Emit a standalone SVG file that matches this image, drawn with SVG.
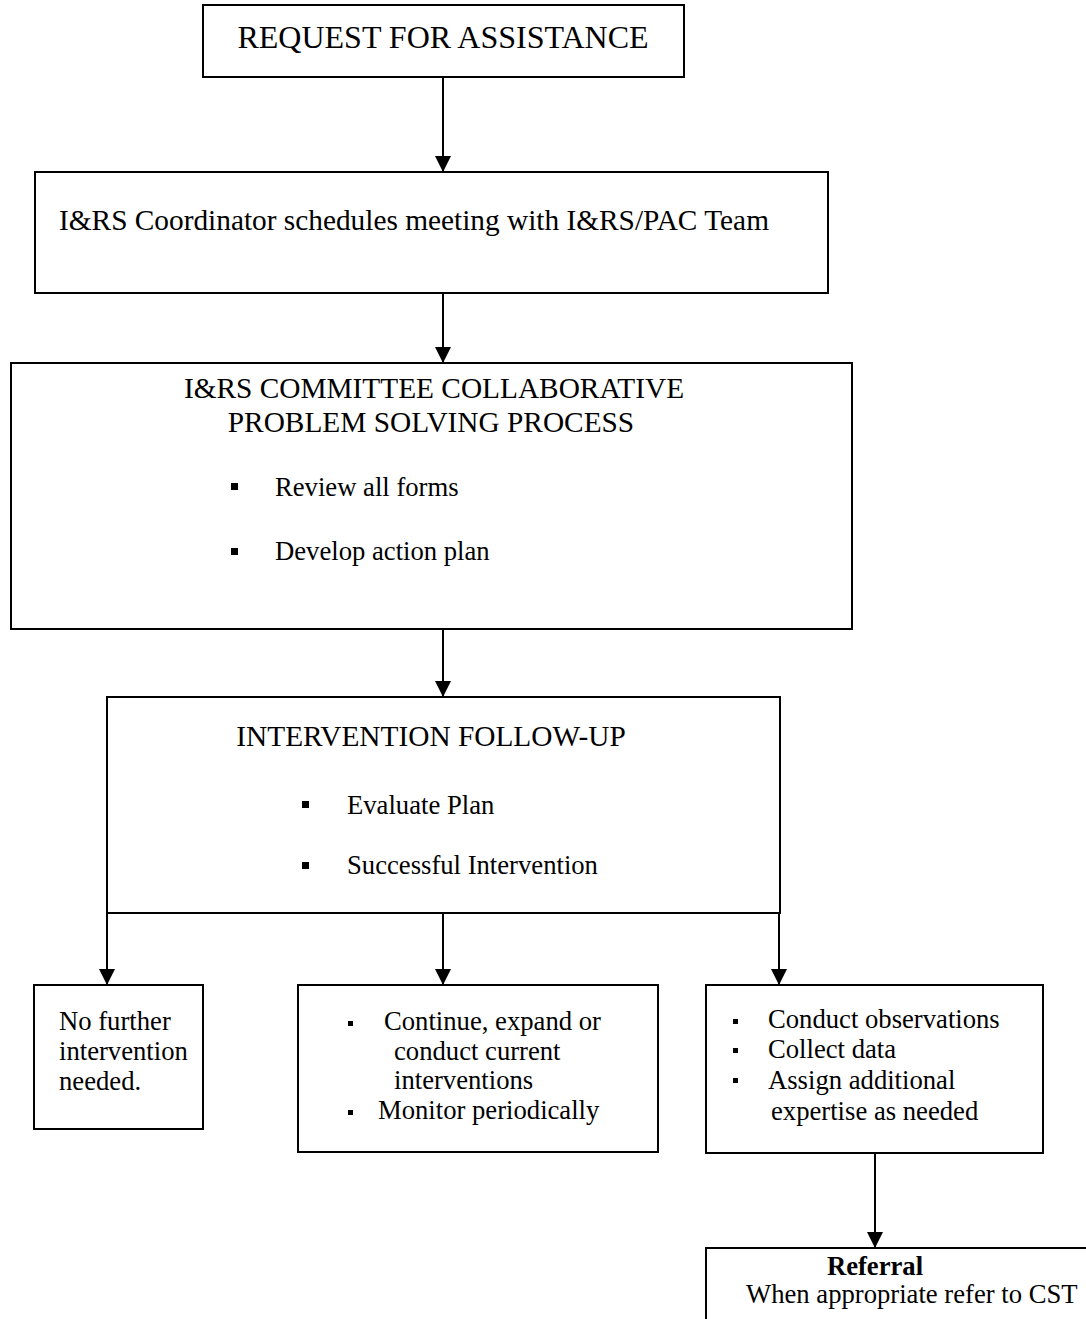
<svg xmlns="http://www.w3.org/2000/svg" width="1086" height="1319" viewBox="0 0 1086 1319">
<style>
.box{fill:#fff;stroke:#000;stroke-width:2}
.t{font-family:"Liberation Serif","Times New Roman",serif;fill:#000}
.l{font-size:32px}
.m{font-size:29.33px}
.s{font-size:26.67px}
.c{text-anchor:middle}
.b{font-weight:bold}
.conn{stroke:#000;stroke-width:2;fill:none}
.arr{marker-end:url(#ah)}
.blt{fill:#000}
</style>
<defs>
<marker id="ah" viewBox="0 0 16 16" refX="16" refY="8" markerWidth="16" markerHeight="16" markerUnits="userSpaceOnUse" orient="auto">
<path d="M0,0 L16,8 L0,16 Z" fill="#000"/>
</marker>
</defs>
<rect x="0" y="0" width="1086" height="1319" fill="#fff"/>
<g id="connectors">
<line class="conn arr" x1="443" y1="77" x2="443" y2="172"/>
<line class="conn arr" x1="443" y1="293" x2="443" y2="363"/>
<line class="conn arr" x1="443" y1="629" x2="443" y2="697"/>
<line class="conn arr" x1="107" y1="913" x2="107" y2="985"/>
<line class="conn arr" x1="443" y1="913" x2="443" y2="985"/>
<line class="conn arr" x1="779" y1="913" x2="779" y2="985"/>
<line class="conn arr" x1="875" y1="1153" x2="875" y2="1248"/>
</g>
<g id="request">
<rect class="box" x="203" y="5" width="481" height="72"/>
<text class="t l c" x="443" y="48">REQUEST FOR ASSISTANCE</text>
</g>
<g id="coordinator">
<rect class="box" x="35" y="172" width="793" height="121"/>
<text class="t m" x="59" y="230">I&amp;RS Coordinator schedules meeting with I&amp;RS/PAC Team</text>
</g>
<g id="committee">
<rect class="box" x="11" y="363" width="841" height="266"/>
<text class="t m c" x="434" y="398">I&amp;RS COMMITTEE COLLABORATIVE</text>
<text class="t m c" x="431" y="432">PROBLEM SOLVING PROCESS</text>
<rect class="blt" x="231" y="483" width="7" height="7"/>
<text class="t s" x="275" y="496">Review all forms</text>
<rect class="blt" x="231" y="548" width="7" height="7"/>
<text class="t s" x="275" y="560">Develop action plan</text>
</g>
<g id="followup">
<rect class="box" x="107" y="697" width="673" height="216"/>
<text class="t m c" x="431" y="746">INTERVENTION FOLLOW-UP</text>
<rect class="blt" x="302" y="801" width="7" height="7"/>
<text class="t s" x="347" y="814">Evaluate Plan</text>
<rect class="blt" x="302" y="862" width="7" height="7"/>
<text class="t s" x="347" y="874">Successful Intervention</text>
</g>
<g id="no-further">
<rect class="box" x="34" y="985" width="169" height="144"/>
<text class="t s" x="59" y="1030">No further</text>
<text class="t s" x="59" y="1060">intervention</text>
<text class="t s" x="59" y="1090">needed.</text>
</g>
<g id="continue">
<rect class="box" x="298" y="985" width="360" height="167"/>
<rect class="blt" x="348" y="1021" width="5" height="5"/>
<text class="t s" x="384" y="1030">Continue, expand or</text>
<text class="t s" x="394" y="1060">conduct current</text>
<text class="t s" x="394" y="1089">interventions</text>
<rect class="blt" x="348" y="1110" width="5" height="5"/>
<text class="t s" x="378" y="1119">Monitor periodically</text>
</g>
<g id="observations">
<rect class="box" x="706" y="985" width="337" height="168"/>
<rect class="blt" x="733" y="1019" width="5" height="5"/>
<text class="t s" x="768" y="1028">Conduct observations</text>
<rect class="blt" x="733" y="1048" width="5" height="5"/>
<text class="t s" x="768" y="1058">Collect data</text>
<rect class="blt" x="733" y="1078" width="5" height="5"/>
<text class="t s" x="768" y="1089">Assign additional</text>
<text class="t s" x="771" y="1120">expertise as needed</text>
</g>
<g id="referral">
<rect class="box" x="706" y="1248" width="400" height="100"/>
<text class="t s c b" x="875" y="1275">Referral</text>
<text class="t s" x="746" y="1303">When appropriate refer to CST</text>
</g>
</svg>
